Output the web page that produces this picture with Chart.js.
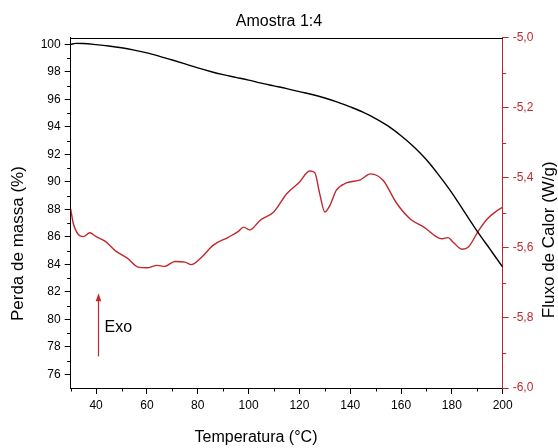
<!DOCTYPE html>
<html>
<head>
<meta charset="utf-8">
<script src="https://cdn.jsdelivr.net/npm/chart.js@4.4.0/dist/chart.umd.min.js"></script>
<style>
  html, body { margin: 0; padding: 0; background: #fff; }
  #wrap { width: 558px; height: 448px; }
</style>
</head>
<body>
<div id="wrap"><canvas id="c" width="558" height="448"></canvas></div>
<script>
// ---- data ----
const chartTitle = 'Amostra 1:4';
const xTitle = 'Temperatura (°C)';
const yTitle = 'Perda de massa (%)';
const y2Title = 'Fluxo de Calor (W/g)';

// TGA curve (mass loss, left axis)
const massTemps = [30,32,35,40,45,50,55,60,65,70,75,80,85,90,95,100,105,110,115,120,125,130,135,140,145,150,155,160,165,170,175,180,185,190,195,200];
const massValues = [100.0,100.07,100.06,99.98,99.88,99.75,99.58,99.38,99.13,98.86,98.58,98.29,98.03,97.8,97.6,97.4,97.18,96.98,96.78,96.56,96.35,96.1,95.8,95.45,95.07,94.6,94.05,93.35,92.55,91.6,90.45,89.2,87.8,86.4,85.1,83.8];

// DSC curve (heat flow, right axis)
const fluxTemps = [30,31,33,35,37.5,40,43.5,47.5,52.5,56.5,60,64,67,71,75,77.5,81.5,86,92,96,98,100.5,104.5,110,115,120,124,126,128,130,132,134.5,138.5,144,148,153,158,163.5,169,176,178.5,180.5,184,186.5,190.5,194,198,200];
const fluxValues = [-5.49,-5.53,-5.562,-5.568,-5.557,-5.568,-5.581,-5.608,-5.631,-5.655,-5.657,-5.65,-5.653,-5.639,-5.641,-5.648,-5.627,-5.593,-5.57,-5.553,-5.541,-5.549,-5.522,-5.497,-5.446,-5.413,-5.381,-5.385,-5.446,-5.498,-5.479,-5.436,-5.415,-5.406,-5.389,-5.408,-5.47,-5.517,-5.541,-5.574,-5.571,-5.584,-5.604,-5.598,-5.551,-5.517,-5.493,-5.484];

// tick labels
const xTicks = [40,60,80,100,120,140,160,180,200];
const xMinorTicks = [30,50,70,90,110,130,150,170,190];
const massTicks = [76,78,80,82,84,86,88,90,92,94,96,98,100];
const massMinorTicks = [77,79,81,83,85,87,89,91,93,95,97,99];
const fluxTicks = [-6.0,-5.8,-5.6,-5.4,-5.2,-5.0];
const fluxMinorTicks = [-5.9,-5.7,-5.5,-5.3,-5.1];

// "Exo" annotation (data coordinates)
const exoLabel = 'Exo';
const exoArrowT = 40.9;
const exoArrowFrom = 77.3;
const exoArrowTo = 81.9;
const exoTextT = 43.3;
const exoTextY = 79.4;

// ---- styles ----
const RED = '#c0282d';
const FONT = "'Liberation Sans', Arial, sans-serif";

const extras = {
  id: 'extras',
  afterDraw(chart) {
    const ctx = chart.ctx;
    const {left, right, top, bottom} = chart.chartArea;
    const sx = chart.scales.x, sy = chart.scales.y, sy2 = chart.scales.y2;
    ctx.save();
    // top frame line
    ctx.strokeStyle = '#000';
    ctx.lineWidth = 1;
    ctx.beginPath();
    ctx.moveTo(left, Math.round(top) + 0.5);
    ctx.lineTo(right, Math.round(top) + 0.5);
    ctx.stroke();
    // minor ticks
    const minorLen = 3.5;
    ctx.beginPath();
    xMinorTicks.forEach(v => {
      const px = Math.round(sx.getPixelForValue(v)) + 0.5;
      ctx.moveTo(px, bottom);
      ctx.lineTo(px, bottom + minorLen);
    });
    massMinorTicks.forEach(v => {
      const py = Math.round(sy.getPixelForValue(v)) + 0.5;
      ctx.moveTo(left, py);
      ctx.lineTo(left - minorLen, py);
    });
    ctx.stroke();
    ctx.strokeStyle = RED;
    ctx.beginPath();
    fluxMinorTicks.forEach(v => {
      const py = Math.round(sy2.getPixelForValue(v)) + 0.5;
      ctx.moveTo(right, py);
      ctx.lineTo(right + minorLen, py);
    });
    ctx.stroke();

    // Exo arrow
    const ax = Math.round(sx.getPixelForValue(exoArrowT)) + 0.5;
    const ay1 = sy.getPixelForValue(exoArrowFrom);
    const ay2 = sy.getPixelForValue(exoArrowTo);
    ctx.strokeStyle = RED;
    ctx.fillStyle = RED;
    ctx.lineWidth = 1.2;
    ctx.beginPath();
    ctx.moveTo(ax, ay1);
    ctx.lineTo(ax, ay2 + 6);
    ctx.stroke();
    ctx.beginPath();
    ctx.moveTo(ax, ay2);
    ctx.lineTo(ax - 2.8, ay2 + 8);
    ctx.lineTo(ax + 2.8, ay2 + 8);
    ctx.closePath();
    ctx.fill();

    // Exo text
    ctx.fillStyle = '#000';
    ctx.font = '16px ' + FONT;
    ctx.textAlign = 'left';
    ctx.textBaseline = 'middle';
    ctx.fillText(exoLabel, sx.getPixelForValue(exoTextT), sy.getPixelForValue(exoTextY));

    // axis titles
    ctx.font = '16px ' + FONT;
    ctx.textAlign = 'center';
    ctx.textBaseline = 'middle';
    ctx.fillText(xTitle, left + (right - left) * 0.429, bottom + 50);

    ctx.font = '17px ' + FONT;
    ctx.save();
    ctx.translate(18.5, top + (bottom - top) * 0.588);
    ctx.rotate(-Math.PI / 2);
    ctx.fillText(yTitle, 0, 0);
    ctx.restore();

    ctx.save();
    ctx.translate(549.5, top + (bottom - top) * 0.577);
    ctx.rotate(-Math.PI / 2);
    ctx.fillText(y2Title, 0, 0);
    ctx.restore();

    ctx.restore();
  }
};

new Chart(document.getElementById('c'), {
  type: 'line',
  data: {
    datasets: [
      {
        label: 'Perda de massa',
        data: massTemps.map((t, i) => ({x: t, y: massValues[i]})),
        yAxisID: 'y',
        borderColor: '#000',
        borderWidth: 1.4,
        pointRadius: 0,
        cubicInterpolationMode: 'monotone',
        fill: false
      },
      {
        label: 'Fluxo de Calor',
        data: fluxTemps.map((t, i) => ({x: t, y: fluxValues[i]})),
        yAxisID: 'y2',
        borderColor: RED,
        borderWidth: 1.4,
        pointRadius: 0,
        cubicInterpolationMode: 'monotone',
        fill: false
      }
    ]
  },
  options: {
    responsive: false,
    animation: false,
    devicePixelRatio: 1,
    layout: { padding: 0 },
    plugins: {
      legend: { display: false },
      tooltip: { enabled: false },
      title: {
        display: true,
        text: chartTitle,
        color: '#000',
        font: { family: FONT, size: 16, weight: 'normal' },
        padding: { top: 12, bottom: 6.3 }
      }
    },
    scales: {
      x: {
        type: 'linear',
        position: 'bottom',
        min: 30, max: 200,
        afterBuildTicks: s => { s.ticks = xTicks.map(v => ({value: v})); },
        afterFit: s => { s.height = 60; },
        grid: { drawOnChartArea: false, drawTicks: true, tickLength: 6, color: '#000', tickColor: '#000' },
        border: { display: true, color: '#000', width: 1 },
        ticks: { color: '#000', font: { family: FONT, size: 12 }, padding: 4, maxRotation: 0, autoSkip: false }
      },
      y: {
        type: 'linear',
        position: 'left',
        min: 75, max: 100.5,
        afterBuildTicks: s => { s.ticks = massTicks.map(v => ({value: v})); },
        afterFit: s => { s.width = 70.7; },
        grid: { drawOnChartArea: false, drawTicks: true, tickLength: 6, color: '#000', tickColor: '#000' },
        border: { display: true, color: '#000', width: 1 },
        ticks: { color: '#000', font: { family: FONT, size: 12 }, padding: 4, autoSkip: false }
      },
      y2: {
        type: 'linear',
        position: 'right',
        min: -6.0, max: -5.0,
        afterBuildTicks: s => { s.ticks = fluxTicks.map(v => ({value: v})); },
        afterFit: s => { s.width = 55.3; },
        grid: { drawOnChartArea: false, drawTicks: true, tickLength: 6, color: RED, tickColor: RED },
        border: { display: true, color: RED, width: 1 },
        ticks: {
          color: RED, font: { family: FONT, size: 12 }, padding: 4, autoSkip: false,
          callback: v => v.toFixed(1).replace('.', ',')
        }
      }
    }
  },
  plugins: [extras]
});
</script>
</body>
</html>
